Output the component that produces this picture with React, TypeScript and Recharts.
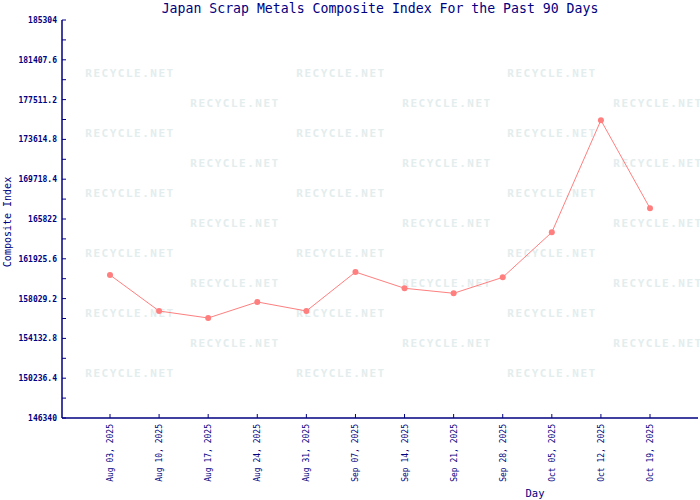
import { Customized, Line, LineChart, XAxis, YAxis } from 'recharts'

const days = [
  'Aug 03, 2025', 'Aug 10, 2025', 'Aug 17, 2025', 'Aug 24, 2025', 'Aug 31, 2025', 'Sep 07, 2025',
  'Sep 14, 2025', 'Sep 21, 2025', 'Sep 28, 2025', 'Oct 05, 2025', 'Oct 12, 2025', 'Oct 19, 2025',
]
const compositeIndex = [
  160340, 156815, 156130, 157700, 156815, 160630,
  159040, 158550, 160110, 164520, 175490, 166870,
]
const majorTicks = [
  146340, 150236.4, 154132.8, 158029.2, 161925.6, 165822,
  169718.4, 173614.8, 177511.2, 181407.6, 185304,
]
const minorTicks = [
  148288.2, 152184.6, 156081, 159977.4, 163873.8,
  167770.2, 171666.6, 175563, 179459.4, 183355.8,
]

const NAVY = '#000080'
const LINE = '#ff7f7f'
const MONO = '"DejaVu Sans Mono", "Liberation Mono", monospace'

const data = days.map((d, i) => ({ day: d, value: compositeIndex[i] }))
const yTicks = [...majorTicks, ...minorTicks].sort((a, b) => a - b)

function YTick(props: any) {
  const { x, y, payload } = props
  const major = majorTicks.includes(payload.value)
  return (
    <g>
      <line x1={x} y1={y} x2={x + 4} y2={y} stroke={NAVY} />
      {major && (
        <text x={x - 5} y={y + 3} textAnchor="end" fontSize={8} fontFamily={MONO} fontWeight="bold" fill={NAVY}>
          {payload.value}
        </text>
      )}
    </g>
  )
}

function XTick(props: any) {
  const { x, y, payload } = props
  return (
    <g>
      <line x1={x} y1={y - 4} x2={x} y2={y} stroke={NAVY} />
      <text
        x={x + 3}
        y={y + 6}
        transform={`rotate(-90, ${x + 3}, ${y + 6})`}
        textAnchor="end"
        fontSize={8}
        fontFamily={MONO}
        fill={NAVY}
      >
        {payload.value}
      </text>
    </g>
  )
}

function Dot(props: any) {
  const { cx, cy } = props
  return <circle cx={cx} cy={cy} r={3} fill={LINE} stroke="none" />
}

function Watermark() {
  const rows = [73, 103, 133, 163, 193, 223, 253, 283, 313, 343, 373]
  const out: any[] = []
  rows.forEach((y, r) => {
    const xs = r % 2 === 0 ? [130, 341, 552] : [235, 447, 658]
    xs.forEach((x) => {
      out.push(
        <text key={`${r}-${x}`} x={x} y={y + 4} textAnchor="middle" fontSize={11} fontWeight="bold"
          fontFamily={MONO} fill="#e3eded" letterSpacing={1.5}>
          RECYCLE.NET
        </text>,
      )
    })
  })
  return <g>{out}</g>
}

export default function App() {
  return (
    <div style={{ position: 'absolute', left: 0, top: 0, width: 700, height: 500, background: '#fff' }}>
      <LineChart width={700} height={500} data={data} margin={{ top: 20, right: 2, bottom: 0, left: 0 }}>
        <Customized component={Watermark} />
        <XAxis
          dataKey="day"
          height={82}
          padding={{ left: 48, right: 48 }}
          axisLine={{ stroke: NAVY, strokeWidth: 1.5 }}
          tickLine={false}
          tickSize={0}
          tickMargin={0}
          tick={<XTick />}
          interval={0}
        />
        <XAxis xAxisId="top" orientation="top" height={0} dataKey="day" tick={false} tickLine={false}
          axisLine={{ stroke: NAVY, strokeWidth: 1.5 }} />
        <YAxis
          width={62}
          domain={[146340, 185304]}
          ticks={yTicks}
          interval={0}
          axisLine={{ stroke: NAVY, strokeWidth: 1.5 }}
          tickLine={false}
          tickSize={0}
          tickMargin={0}
          tick={<YTick />}
        />
        <YAxis yAxisId="right" orientation="right" width={0} tick={false} tickLine={false}
          axisLine={{ stroke: NAVY, strokeWidth: 1.5 }} />
        <Line
          dataKey="value"
          stroke={LINE}
          strokeWidth={1}
          dot={<Dot />}
          activeDot={false}
          isAnimationActive={false}
        />
        <text x={380} y={13} textAnchor="middle" fontSize={13.2} fontFamily={MONO} fill={NAVY}>
          Japan Scrap Metals Composite Index For the Past 90 Days
        </text>
        <text x={11} y={222} transform="rotate(-90, 11, 222)" textAnchor="middle" fontSize={10}
          fontFamily={MONO} fill={NAVY}>
          Composite Index
        </text>
        <text x={535} y={497} textAnchor="middle" fontSize={10.5} fontFamily={MONO} fill={NAVY}>
          Day
        </text>
      </LineChart>
    </div>
  )
}
